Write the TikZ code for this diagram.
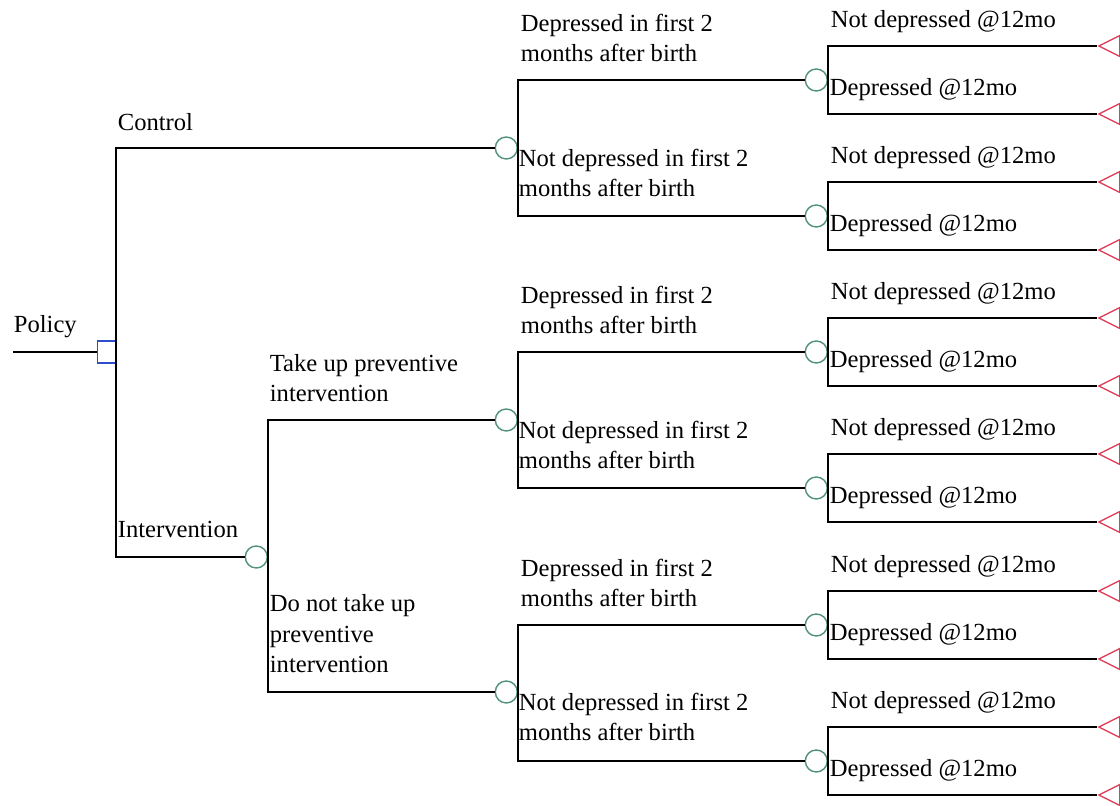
\documentclass[tikz,border=0pt]{standalone}
\usepackage{fontspec}
\setmainfont{Liberation Serif}
\usetikzlibrary{shapes.geometric}
\definecolor{decblue}{RGB}{45,80,200}
\definecolor{chgreen}{RGB}{80,145,120}
\definecolor{termred}{RGB}{220,65,90}

\begin{document}
\begin{tikzpicture}[x=0.5pt, y=-0.5pt, line width=0.9pt,
    decision/.style={draw=decblue, line width=0.6pt, rectangle, minimum width=9pt, minimum height=11pt, inner sep=0pt, anchor=east},
    chance/.style={draw=chgreen, line width=0.7pt, circle, minimum size=11pt, inner sep=0pt, anchor=east},
    terminal/.style={draw=termred, line width=0.7pt, isosceles triangle, shape border rotate=180, isosceles triangle stretches, minimum width=10.5pt, minimum height=10.5pt, inner sep=0pt, anchor=apex},
    lbl/.style={anchor=base west, inner sep=0pt, align=left, font=\fontsize{12.3}{15.3}\selectfont}]
    \useasboundingbox (0,0) rectangle (1120,806);

    \coordinate (start) at (13,352);
    \node (policy) [decision] at (116,352) {};
    \node (control) [chance] at (518,148) {};
    \node (interv) [chance] at (268,557) {};
    \node (takeup) [chance] at (518,420) {};
    \node (notake) [chance] at (518,692) {};

    \node (lpolicy) [lbl] at (13,333) {Policy};
    \node (lcontrol) [lbl] at (117,131) {Control};
    \node (linterv) [lbl] at (117,538) {Intervention};
    \node (ltakeup) [lbl] at (269,402) {Take up preventive\\intervention};
    \node (lnotake) [lbl] at (269,673) {Do not take up\\preventive\\intervention};

    \node (ldep1) [lbl] at (520,62) {Depressed in first 2\\months after birth};
    \node (lnodep1) [lbl] at (518,197) {Not depressed in first 2\\months after birth};
    \node (ldep2) [lbl] at (520,334) {Depressed in first 2\\months after birth};
    \node (lnodep2) [lbl] at (518,469) {Not depressed in first 2\\months after birth};
    \node (ldep3) [lbl] at (520,607) {Depressed in first 2\\months after birth};
    \node (lnodep3) [lbl] at (518,741) {Not depressed in first 2\\months after birth};

    \foreach \i/\y in {1/80,2/216,3/352,4/488,5/625,6/761} {
        \node (c\i) [chance] at (828,\y) {};
        \node (ta\i) [terminal] at (1097,\y-34) {};
        \node (tb\i) [terminal] at (1097,\y+34) {};
        \node (lnd\i) [lbl] at (830,\y-52) {Not depressed @12mo};
        \node (ld\i) [lbl] at (829,\y+16) {Depressed @12mo};
        \draw (ta\i.apex) -| (c\i.east) |- (tb\i.apex);
    }

    \draw (start) -- (policy.west);
    \draw (control.west) -| (policy.east) |- (interv.west);
    \draw (takeup.west) -| (interv.east) |- (notake.west);
    \draw (c1.west) -| (control.east) |- (c2.west);
    \draw (c3.west) -| (takeup.east) |- (c4.west);
    \draw (c5.west) -| (notake.east) |- (c6.west);
\end{tikzpicture}
\end{document}
